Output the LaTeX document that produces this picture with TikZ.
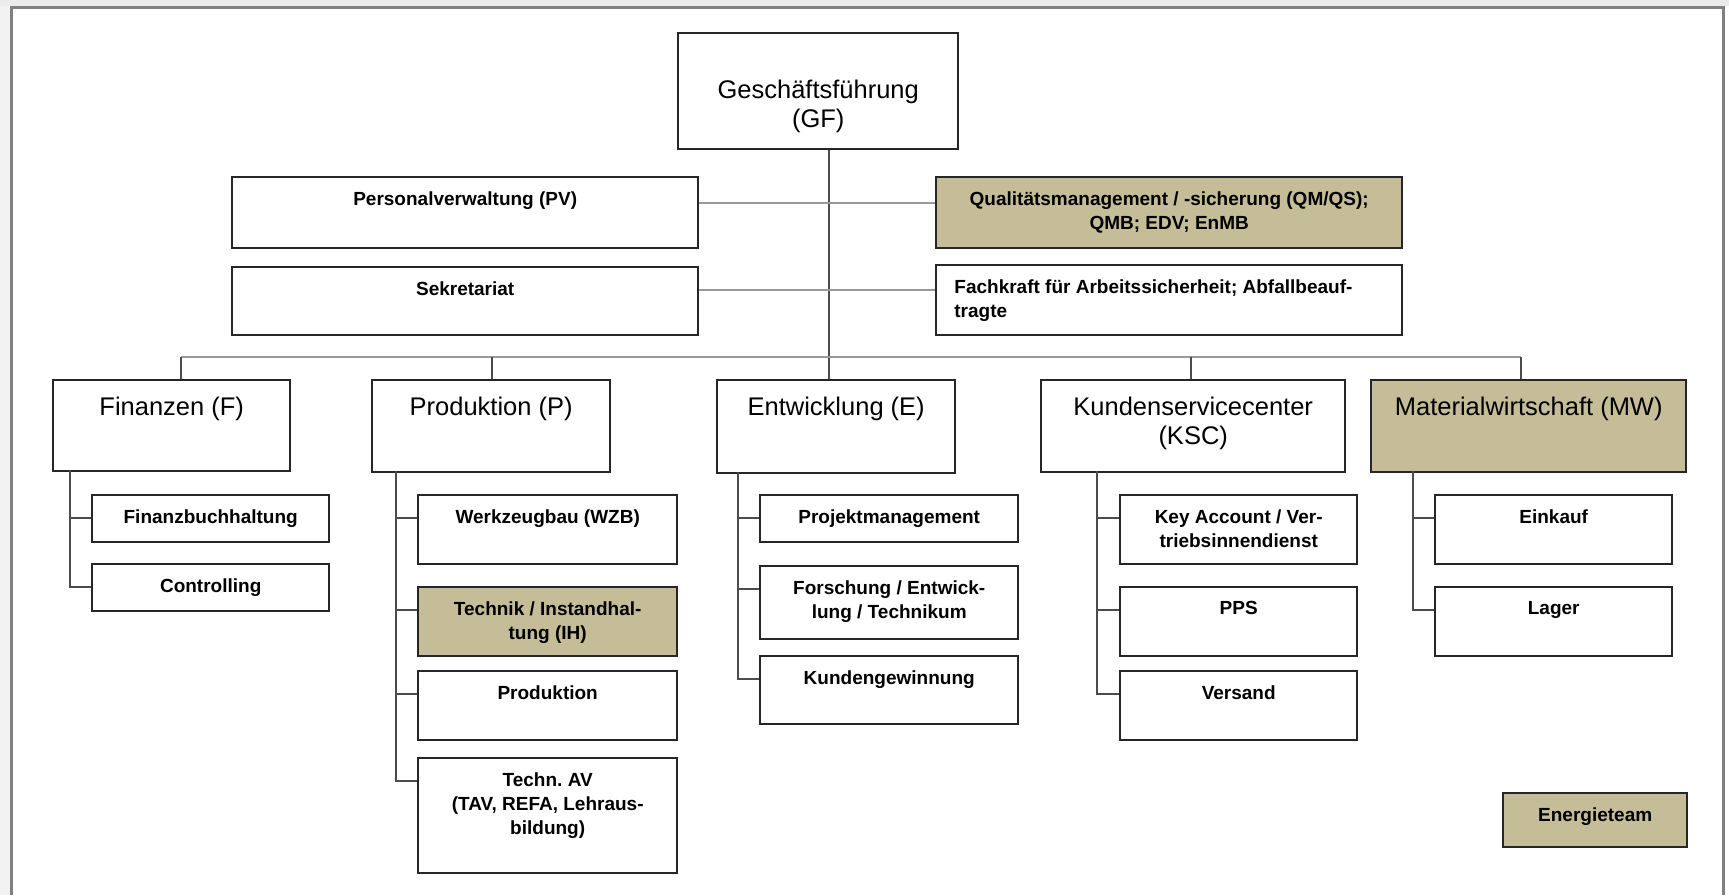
\documentclass[tikz,border=0pt]{standalone}
\usepackage{fontspec}
\setmainfont{Liberation Sans}
\usepackage{xcolor}
\usepackage{tikz}

\definecolor{qmtan}{RGB}{196,189,151}

\tikzset{
  box/.style = {draw=black!85, line width=1.2pt, fill=white, inner sep=0pt, anchor=north west},
  tanbox/.style = {box, fill=qmtan},
  head/.style = {anchor=north, align=center, inner sep=0pt, yshift=-9pt, font=\fontsize{12.75}{14.5}\selectfont},
  sub/.style = {anchor=north, align=center, inner sep=0pt, yshift=-7.5pt, font=\fontsize{9.5}{12}\selectfont\bfseries},
  link/.style = {draw=black!70, line width=0.9pt},
  glink/.style = {draw=black!40, line width=1.1pt}
}

\begin{document}
\frenchspacing
\begin{tikzpicture}[x=0.5pt, y=-0.5pt]
\useasboundingbox (0,0) rectangle (1729,895);

% -- frame
\fill[black!8] (0,0) rectangle (1729,6);
\fill[black!5] (0,6) rectangle (10,895);
\draw[black!50, line width=1.5pt] (11,895) -- (11,7) -- (1723,7) -- (1723,895);

% -- Geschaeftsfuehrung
\draw (677,32) node[box, minimum width=140pt, minimum height=58pt,
   label={[head, yshift=-15pt]north:Geschäftsführung\\(GF)}] (gf) {};

% -- staff positions
\draw (231,176) node[box, minimum width=233pt, minimum height=35.5pt,
   label={[sub]north:Personalverwaltung (PV)}] (pv) {};
\draw (231,266) node[box, minimum width=233pt, minimum height=34pt,
   label={[sub]north:Sekretariat}] (sek) {};
\draw (935,176) node[tanbox, minimum width=233pt, minimum height=35.5pt,
   label={[sub]north:Qualitätsmanagement / -sicherung (QM/QS);\\QMB; EDV; EnMB}] (qm) {};
\draw (935,264) node[box, minimum width=233pt, minimum height=35pt,
   label={[sub, anchor=north west, align=left, xshift=9.5pt]north west:Fachkraft für Arbeitssicherheit; Abfallbeauf-\\tragte}] (fk) {};

% -- departments
\draw (52,379) node[box, minimum width=118.5pt, minimum height=45.5pt,
   label={[head]north:Finanzen (F)}] (fin) {};
\draw (371,379) node[box, minimum width=119pt, minimum height=46pt,
   label={[head]north:Produktion (P)}] (prod) {};
\draw (716,379) node[box, minimum width=119pt, minimum height=46.5pt,
   label={[head]north:Entwicklung (E)}] (ent) {};
\draw (1040,379) node[box, minimum width=152pt, minimum height=46pt,
   label={[head]north:Kundenservicecenter\\(KSC)}] (ksc) {};
\draw (1370,379) node[tanbox, minimum width=157.5pt, minimum height=46pt,
   label={[head]north:Materialwirtschaft (MW)}] (mw) {};

% -- F
\draw (91,494) node[box, minimum width=118.5pt, minimum height=23.5pt,
   label={[sub]north:Finanzbuchhaltung}] (fbh) {};
\draw (91,563) node[box, minimum width=118.5pt, minimum height=23.5pt,
   label={[sub]north:Controlling}] (ctrl) {};

% -- P
\draw (417,494) node[box, minimum width=129.5pt, minimum height=34.5pt,
   label={[sub]north:Werkzeugbau (WZB)}] (wzb) {};
\draw (417,586) node[tanbox, minimum width=129.5pt, minimum height=34.5pt,
   label={[sub]north:Technik / Instandhal-\\tung (IH)}] (ih) {};
\draw (417,670) node[box, minimum width=129.5pt, minimum height=34.5pt,
   label={[sub]north:Produktion}] (prd) {};
\draw (417,757) node[box, minimum width=129.5pt, minimum height=57.5pt,
   label={[sub]north:Techn. AV\\(TAV, REFA, Lehraus-\\bildung)}] (av) {};

% -- E
\draw (759,494) node[box, minimum width=129pt, minimum height=23.5pt,
   label={[sub]north:Projektmanagement}] (proj) {};
\draw (759,565) node[box, minimum width=129pt, minimum height=36.5pt,
   label={[sub]north:Forschung / Entwick-\\lung / Technikum}] (fe) {};
\draw (759,655) node[box, minimum width=129pt, minimum height=34pt,
   label={[sub]north:Kundengewinnung}] (kg) {};

% -- KSC
\draw (1119,494) node[box, minimum width=118.5pt, minimum height=34.5pt,
   label={[sub]north:Key Account / Ver-\\triebsinnendienst}] (key) {};
\draw (1119,586) node[box, minimum width=118.5pt, minimum height=34.5pt,
   label={[sub]north:PPS}] (pps) {};
\draw (1119,670) node[box, minimum width=118.5pt, minimum height=34.5pt,
   label={[sub]north:Versand}] (vers) {};

% -- MW
\draw (1434,494) node[box, minimum width=118.5pt, minimum height=34.5pt,
   label={[sub]north:Einkauf}] (eink) {};
\draw (1434,586) node[box, minimum width=118.5pt, minimum height=34.5pt,
   label={[sub]north:Lager}] (lag) {};

% -- Energieteam
\draw (1502,792) node[tanbox, minimum width=92pt, minimum height=27pt,
   label={[sub]north:Energieteam}] (et) {};

% -- lines: GF down, staff, bus
\draw[link] (gf.south) ++(11,0) coordinate (trunk) -- (trunk |- ent.north);
\draw[glink] ([yshift=4.75pt]pv.east) -- ([yshift=4.75pt]pv.east -| qm.west);
\draw[glink] ([yshift=5.5pt]sek.east) -- ([yshift=5.5pt]sek.east -| fk.west);

\coordinate (dF) at (181,357);
\coordinate (dP) at (492,357);
\coordinate (dK) at (1191,357);
\coordinate (dM) at (1521,357);
\draw[glink] (dF) -- (dM);
\foreach \d/\b in {dF/fin, dP/prod, dK/ksc, dM/mw}
  \draw[link] (\d) -- (\d |- \b.north);

% -- lines: sub units
\coordinate (spF) at (70,470);
\coordinate (spP) at (396,471);
\coordinate (spE) at (738,472);
\coordinate (spK) at (1097,471);
\coordinate (spM) at (1413,471);
\foreach \s/\b in {spF/fbh, spF/ctrl, spP/wzb, spP/ih, spP/prd, spP/av,
                   spE/proj, spE/fe, spE/kg, spK/key, spK/pps, spK/vers,
                   spM/eink, spM/lag}
  \draw[link] (\s) |- ([yshift=-12pt]\b.north west);

\end{tikzpicture}
\end{document}
